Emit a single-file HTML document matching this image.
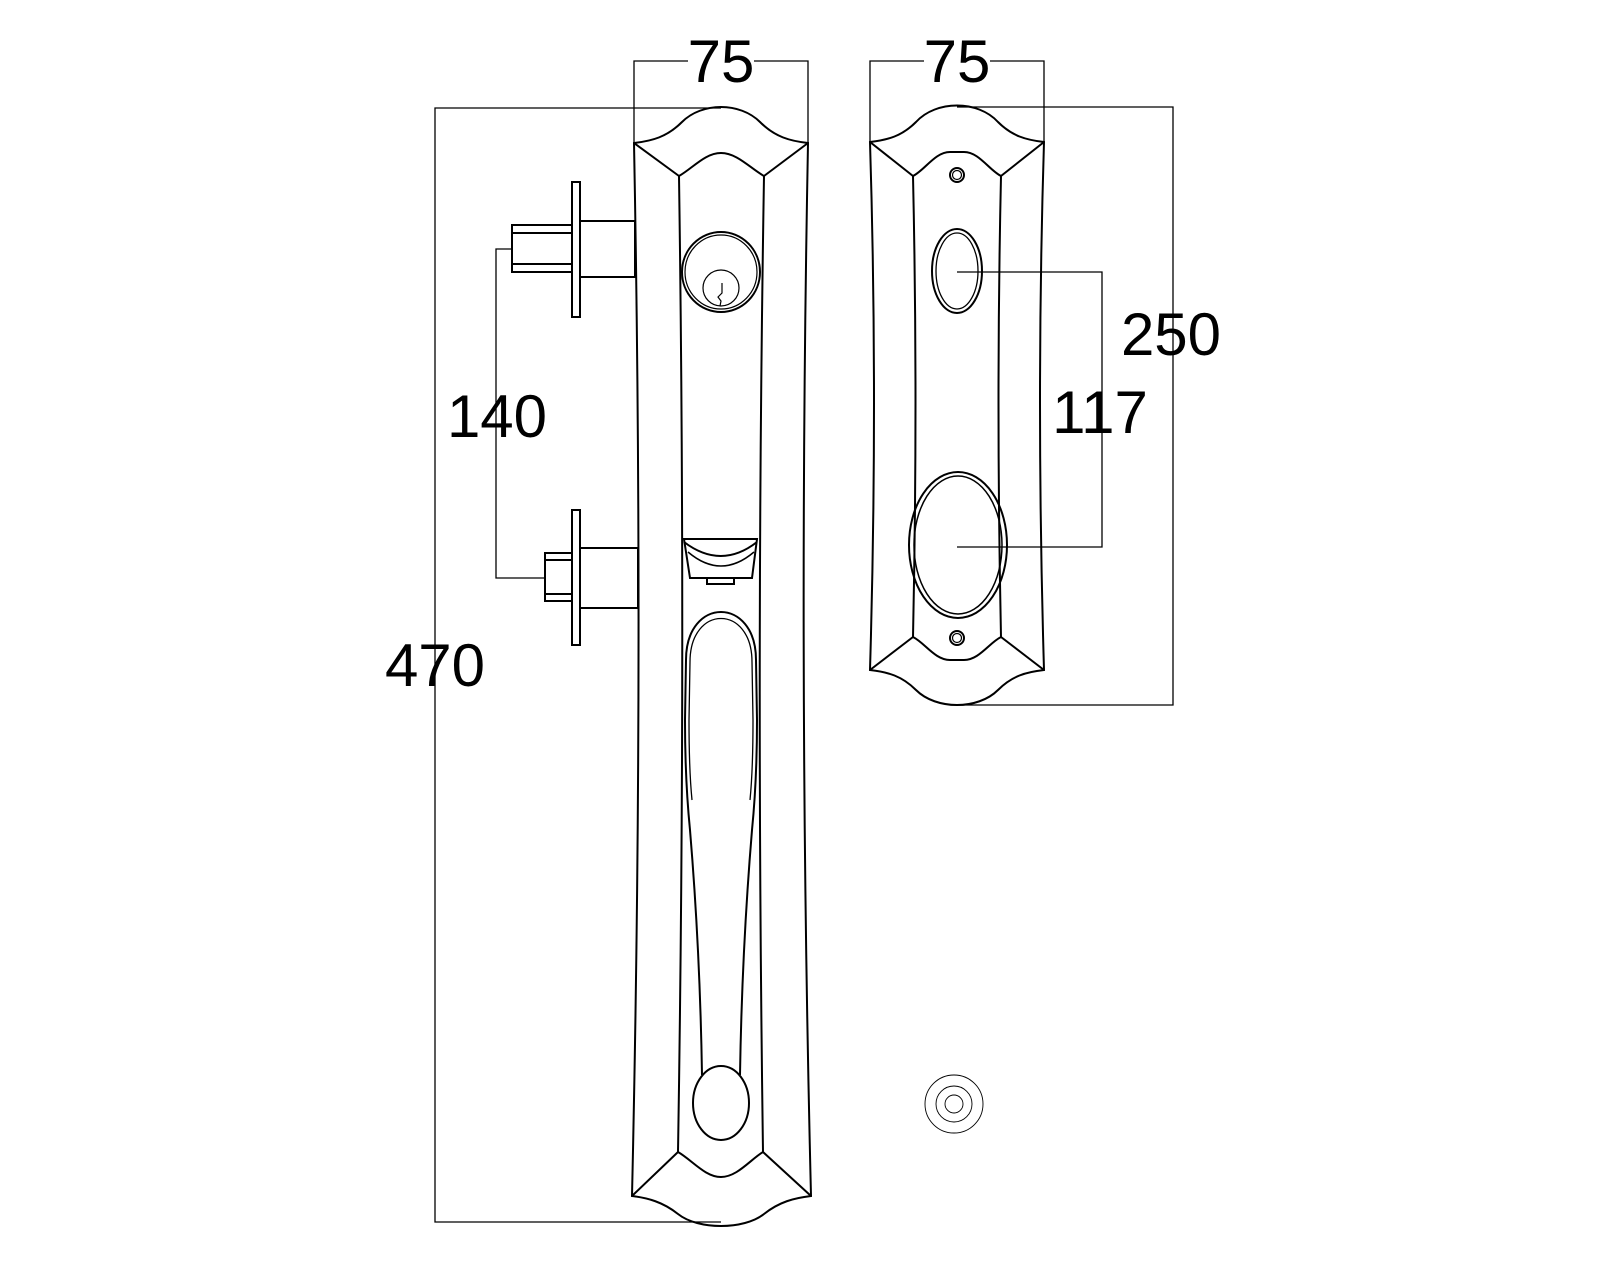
<!DOCTYPE html>
<html><head><meta charset="utf-8"><style>
html,body{margin:0;padding:0;background:#fff;}
svg{display:block;}
text{font-family:"Liberation Sans",sans-serif;font-size:60px;fill:#000;}
</style></head><body>
<svg width="1600" height="1280" viewBox="0 0 1600 1280" xmlns="http://www.w3.org/2000/svg">
<g fill="none" stroke="#000" stroke-width="1.3">
<polyline points="721,108 435,108 435,1222 721,1222"/>
<polyline points="512,249 496,249 496,578 544,578"/>
<polyline points="634,143 634,61 808,61 808,143"/>
<polyline points="870,142 870,61 1044,61 1044,142"/>
<polyline points="957,107 1173,107 1173,705 957,705"/>
<polyline points="957,272 1102,272 1102,547 957,547"/>
</g>
<g fill="none" stroke="#000" stroke-width="2">
<path d="M634,143 C652,141 667,137 682,122 C702,102 740,102 760,122 C775,137 790,141 808,143 Q798,670 811,1196 C794,1198 779,1202 764,1214 C744,1230 698,1230 678,1214 C663,1202 648,1198 632,1196 Q644,670 634,143 Z"/>
<line x1="634" y1="143" x2="679" y2="176"/>
<line x1="808" y1="143" x2="764" y2="176"/>
<line x1="632" y1="1196" x2="678" y2="1152"/>
<line x1="811" y1="1196" x2="763" y2="1152"/>
<path d="M679,176 C693,168 705,153 721,153 C737,153 750,168 764,176 Q756,660 763,1152 C750,1160 737,1177 721,1177 C705,1177 692,1160 678,1152 Q686,660 679,176 Z"/>
<ellipse cx="721" cy="272" rx="39" ry="40"/>
<ellipse cx="721" cy="272" rx="36" ry="37" stroke-width="1.2"/>
<circle cx="721" cy="288" r="18" stroke-width="1.2"/>
<path d="M722,283 L722,293 L718,297 L721,301 L720,306" stroke-width="1.2"/>
<path d="M684,539 L757,539 L752,578 L690,578 Z"/>
<path d="M684,542 Q721,570 757,542"/>
<path d="M688,552 Q721,580 754,552" stroke-width="1.5"/>
<rect x="707" y="578" width="27" height="6"/>
<!-- handle -->
<path d="M686,660 C686,596 756,596 756,660 L757,720 Q757,780 752,830 Q742,950 740,1075"/>
<path d="M686,660 L685,720 Q685,780 690,830 Q700,950 702,1075"/>
<path d="M690,662 C690,604 752,604 752,662 L753,720 Q753,770 750,800" stroke-width="1.3"/>
<path d="M690,662 L689,720 Q689,770 692,800" stroke-width="1.3"/>
<ellipse cx="721" cy="1103" rx="28" ry="37"/>
<rect x="572" y="182" width="8" height="135"/>
<rect x="580" y="221" width="55" height="56"/>
<rect x="512" y="225" width="60" height="47"/>
<line x1="512" y1="233" x2="572" y2="233"/>
<line x1="512" y1="264" x2="572" y2="264"/>
<rect x="572" y="510" width="8" height="135"/>
<rect x="580" y="548" width="58" height="60"/>
<rect x="545" y="553" width="27" height="48"/>
<line x1="545" y1="560" x2="572" y2="560"/>
<line x1="545" y1="594" x2="572" y2="594"/>
<path d="M870,142 C888,140 902,136 916,122 C936,100 978,100 998,122 C1012,136 1026,140 1044,142 Q1036,400 1044,670 C1026,672 1012,676 998,690 C978,710 936,710 916,690 C902,676 888,672 870,670 Q878,400 870,142 Z"/>
<line x1="870" y1="142" x2="913" y2="176"/>
<line x1="1044" y1="142" x2="1001" y2="176"/>
<line x1="870" y1="670" x2="913" y2="637"/>
<line x1="1044" y1="670" x2="1001" y2="637"/>
<path d="M913,176 C925,170 935,152 950,152 L964,152 C979,152 989,170 1001,176 Q996,400 1001,637 C989,643 979,660 964,660 L950,660 C935,660 925,643 913,637 Q918,400 913,176 Z"/>
<circle cx="957" cy="175" r="7"/>
<circle cx="957" cy="175" r="4.5" stroke-width="1.2"/>
<circle cx="957" cy="638" r="7"/>
<circle cx="957" cy="638" r="4.5" stroke-width="1.2"/>
<ellipse cx="957" cy="271" rx="25" ry="42"/>
<ellipse cx="957" cy="271" rx="21" ry="38" stroke-width="1.3"/>
<ellipse cx="958" cy="545" rx="49" ry="73"/>
<ellipse cx="958" cy="545" rx="44" ry="69" stroke-width="1.5"/>
</g>
<g fill="none" stroke="#000" stroke-width="0.9">
<circle cx="954" cy="1104" r="29"/>
<circle cx="954" cy="1104" r="18"/>
<circle cx="954" cy="1104" r="9"/>
</g>
<rect x="688" y="38" width="66" height="46" fill="#fff"/>
<rect x="924" y="38" width="66" height="46" fill="#fff"/>
<text x="721" y="82" text-anchor="middle">75</text>
<text x="957" y="82" text-anchor="middle">75</text>
<text x="497" y="437" text-anchor="middle">140</text>
<text x="435" y="686" text-anchor="middle">470</text>
<text x="1100" y="433" text-anchor="middle">117</text>
<text x="1171" y="355" text-anchor="middle">250</text>
</svg>
</body></html>
